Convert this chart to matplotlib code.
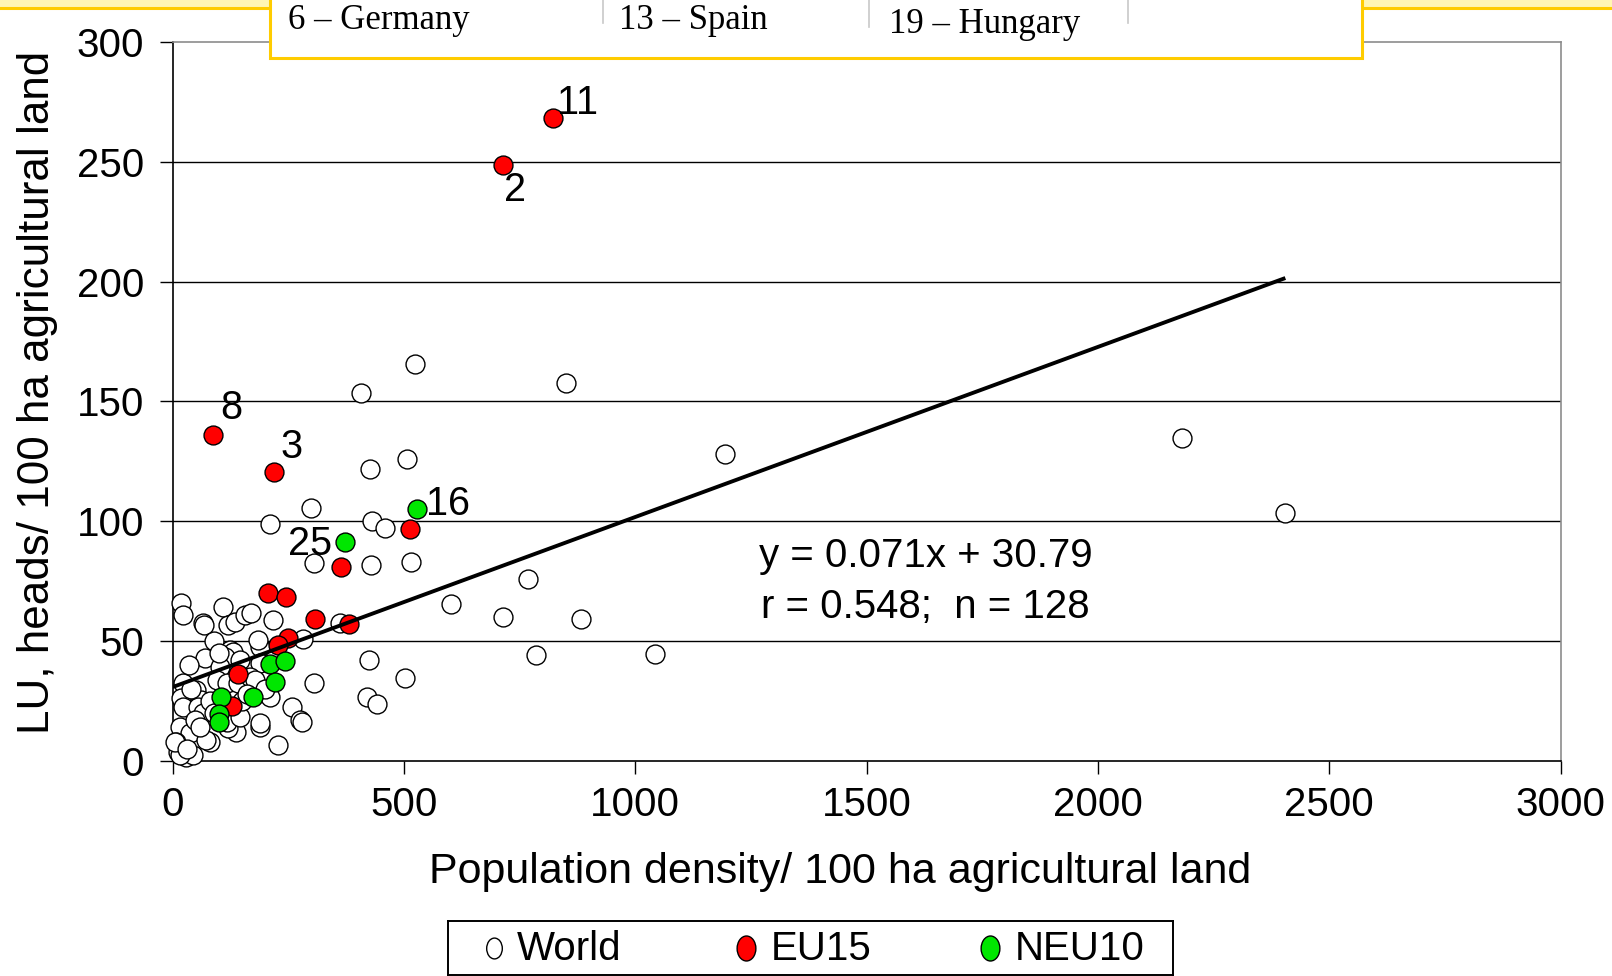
import matplotlib
matplotlib.use('Agg')
import matplotlib.pyplot as plt
from matplotlib.patches import Rectangle
from matplotlib.lines import Line2D
from matplotlib.path import Path

# ---------------- data ----------------
world_x = [524, 406, 851, 2182, 1193, 506, 426, 2404, 300, 210, 430, 459, 305, 428, 516,
           767, 602, 714, 882, 786, 1042, 425, 502, 305, 419, 442, 257, 275, 279, 227, 362, 281,
           19, 22, 66, 67, 109, 120, 134, 156, 170, 217, 90, 123, 130, 188, 69, 112, 145, 184,
           102, 189, 22, 19, 22, 51, 62, 55, 66, 95, 117, 142, 167, 178, 210, 15, 37, 8, 11.5,
           29, 44, 16, 80, 73, 137.5, 120, 117, 145, 188, 189, 48, 59, 5, 30, 40, 35, 80, 90,
           100, 150, 160, 200]
world_y = [165.6, 153.7, 157.6, 134.8, 127.9, 126.1, 121.8, 103.5, 105.6, 98.7, 100.2, 97.3, 82.5, 81.8, 82.9,
           75.8, 65.5, 60.2, 59.1, 44.2, 44.7, 42.1, 34.4, 32.4, 26.5, 23.7, 22.6, 17.0, 16.3, 6.6, 57.4, 50.7,
           65.8, 60.9, 57.7, 56.5, 64.3, 56.7, 58.0, 60.9, 61.6, 58.8, 50.0, 46.3, 45.6, 47.6, 42.8, 43.5, 42.1, 50.4,
           39.3, 40.7, 32.4, 26.1, 22.6, 29.6, 25.4, 22.6, 19.8, 33.7, 32.4, 32.4, 35.1, 33.7, 26.8, 14.2, 11.5, 8.0, 3.8,
           1.7, 2.4, 2.4, 8.0, 8.7, 12.2, 13.6, 16.3, 18.4, 14.2, 15.7, 17.0, 14.2, 8.0, 5.0, 30.0, 40.0, 25.0, 20.0,
           45.0, 25.0, 28.0, 30.0]

eu15_x = [822, 715, 87, 218, 513, 364, 207, 245, 308, 381, 249, 228, 142, 128]
eu15_y = [268.3, 248.6, 136.2, 120.5, 96.8, 80.9, 69.9, 68.5, 59.0, 57.3, 51.1, 48.3, 36.1, 23.0]

neu10_x = [529, 373, 210, 243, 222, 174, 104, 99, 99]
neu10_y = [105.0, 91.5, 40.4, 41.7, 33.0, 26.5, 26.5, 19.5, 16.1]

# labelled points: (text, series, index in that series)
label_texts = ['11', '2', '8', '3', '25', '16']
label_series = ['eu15', 'eu15', 'eu15', 'eu15', 'neu10', 'neu10']
label_index = [0, 1, 2, 3, 1, 0]

x_ticks = [0, 500, 1000, 1500, 2000, 2500, 3000]
y_ticks = [0, 50, 100, 150, 200, 250, 300]

fit_slope = 0.071
fit_intercept = 30.79
fit_x_end = 2405

eq_line1 = 'y = 0.071x + 30.79'
eq_line2 = 'r = 0.548;  n = 128'

legend_names = ['World', 'EU15', 'NEU10']
header_items = ['6 \u2013 Germany', '13 \u2013 Spain', '19 \u2013 Hungary']

# ---------------- styling ----------------
plt.rcParams['font.family'] = ['Liberation Sans', 'DejaVu Sans']
W, H = 1612, 976


def fx(px):
    return px / W


def fy(py):
    return 1 - py / H


fig = plt.figure(figsize=(W / 100, H / 100), dpi=100)
ax = fig.add_axes([fx(172.7), fy(760.8), (1560.6 - 172.7) / W, (760.8 - 42.2) / H])
ax.set_xlim(0, 3000)
ax.set_ylim(0, 300)

for yv in y_ticks[1:-1]:
    ax.axhline(yv, color='black', lw=1.0, zorder=1)

msize = 185
ax.scatter(world_x, world_y, s=msize, facecolor='white', edgecolor='black',
           linewidths=1.0, zorder=3, clip_on=False)
ax.scatter(eu15_x, eu15_y, s=msize, facecolor='#FF0000', edgecolor='black',
           linewidths=1.0, zorder=4, clip_on=False)
ax.scatter(neu10_x, neu10_y, s=msize, facecolor='#00E600', edgecolor='black',
           linewidths=1.0, zorder=5, clip_on=False)

ax.plot([0, fit_x_end], [fit_intercept, fit_slope * fit_x_end + fit_intercept],
        color='black', lw=2.8, zorder=6, solid_capstyle='butt')

series = {'eu15': (eu15_x, eu15_y), 'neu10': (neu10_x, neu10_y)}
label_offsets = [(18, 11), (8, -18), (13, 19), (13, 18), (-25, -2), (22, 4)]
for txt, ser, idx, off in zip(label_texts, label_series, label_index, label_offsets):
    xs, ys = series[ser]
    ax.annotate(txt, xy=(xs[idx], ys[idx]), xytext=off, textcoords='offset points',
                ha='center', va='center', fontsize=28.5, zorder=7)

ax.set_xticks(x_ticks)
ax.set_yticks(y_ticks)
ax.tick_params(axis='both', direction='out', length=9.5, width=1.0, labelsize=29,
               colors='black')
ax.tick_params(axis='y', pad=11)
ax.tick_params(axis='x', pad=9)
for s in ['left', 'bottom']:
    ax.spines[s].set_color('black')
    ax.spines[s].set_linewidth(1.2)
for s in ['top', 'right']:
    ax.spines[s].set_color('#8C8C8C')
    ax.spines[s].set_linewidth(1.2)

fig.text(fx(840), fy(872), 'Population density/ 100 ha agricultural land',
         ha='center', va='center', fontsize=31)
fig.text(fx(38), fy(392), 'LU, heads/ 100 ha agricultural land',
         ha='center', va='center', rotation=90, fontsize=31.7)

fig.text(fx(759), fy(556), eq_line1, ha='left', va='center', fontsize=29)
fig.text(fx(761), fy(607), eq_line2, ha='left', va='center', fontsize=29)

# ---------------- legend ----------------
lax = fig.add_axes([fx(448), fy(975), (1173 - 448) / W, (975 - 921) / H])
lax.set_xlim(0, 1)
lax.set_ylim(0, 1)
lax.set_xticks([])
lax.set_yticks([])
for s in lax.spines.values():
    s.set_color('black')
    s.set_linewidth(1.4)
circ = Path.unit_circle()
oval = Path(circ.vertices * [0.75, 1.0], circ.codes)
leg_face = ['white', '#FF0000', '#00E600']
leg_ms = [15, 18, 18]
leg_mx = [0.0634, 0.411, 0.7476]
leg_tx = [0.095, 0.4455, 0.782]
for name, fc, ms, mx, tx in zip(legend_names, leg_face, leg_ms, leg_mx, leg_tx):
    lax.plot([mx], [0.5], marker=oval, ms=ms, mfc=fc, mec='black', mew=1.0, ls='none')
    lax.text(tx, 0.49, name, ha='left', va='center', fontsize=29)

# ---------------- header decoration ----------------
fig.add_artist(Rectangle((0, fy(7.5)), 1, 7.5 / H, transform=fig.transFigure,
                         facecolor='#FFF6B4', edgecolor='none', zorder=10))
fig.add_artist(Line2D([0, 1], [fy(7.5), fy(7.5)], transform=fig.transFigure,
                      color='#FFCC00', lw=2.2, zorder=11))
fig.add_artist(Rectangle((fx(270), fy(58)), (1362 - 270) / W, 62 / H,
                         transform=fig.transFigure, facecolor='white',
                         edgecolor='#FFCC00', lw=2.2, zorder=12))
for sx, sy in [(603, 23), (869, 27), (1128, 23)]:
    fig.add_artist(Line2D([fx(sx), fx(sx)], [fy(0), fy(sy)], transform=fig.transFigure,
                          color='#C8C8C8', lw=1.2, zorder=13))
for txt, tx, ty in zip(header_items, [288, 619, 889], [29, 29, 33]):
    fig.text(fx(tx), fy(ty), txt, ha='left', va='baseline', fontsize=25,
             family=['Liberation Serif', 'DejaVu Serif'], zorder=14)

fig.savefig('out.png', dpi=100)
